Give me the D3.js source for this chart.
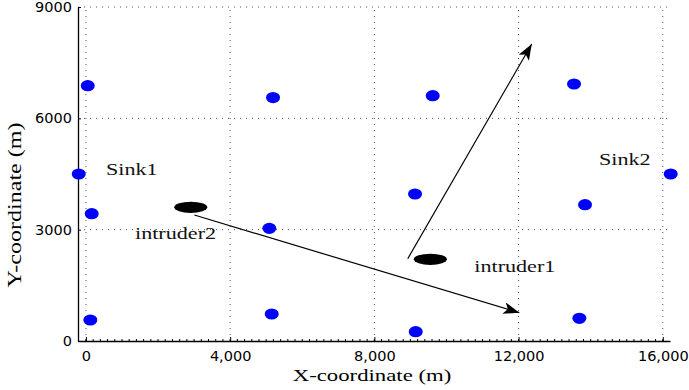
<!DOCTYPE html>
<html>
<head>
<meta charset="utf-8">
<script src="https://cdn.jsdelivr.net/npm/d3@7"></script>
<style>
  body { margin: 0; background: #fff; }
  svg { display: block; }
</style>
</head>
<body>
<svg id="chart"></svg>
<script>
// sensor nodes (m)
const nodeX = [50, -200, 160, 122, 5190, 5087, 5153, 9619, 9128, 9147, 13538, 13843, 13686, 16220];
const nodeY = [6880, 4500, 3430, 566, 6560, 3035, 728, 6610, 3961, 251, 6925, 3673, 611, 4500];

// intruders
const intruderX = [9553, 2907];
const intruderY = [2201, 3603];

// movement arrows [x0, y0, x1, y1]
const arrows = [
    [3007, 3395, 12021, 763],
    [8926, 2218, 12365, 8003]
];

// annotations
const labelText = ['Sink1', 'Sink2', 'intruder2', 'intruder1'];
const labelX = [557, 14232, 1362, 10773];
const labelY = [4473, 4742, 2749, 1859];

const xTicks = [0, 4000, 8000, 12000, 16000];
const yTicks = [0, 3000, 6000, 9000];

const width = 689, height = 390;
const serif = '"Liberation Serif", "Times New Roman", serif';
const stretch = 1.3;   // the original lettering is wide
const svg = d3.select('#chart').attr('width', width).attr('height', height);

const x = d3.scaleLinear().domain([-220, 16200]).range([78, 670]);
const y = d3.scaleLinear().domain([0, 9000]).range([341, 7]);

// grid
const grid = svg.append('g')
    .attr('stroke', '#555')
    .attr('stroke-width', 1)
    .attr('stroke-dasharray', '1,5');
grid.selectAll('line.vx')
    .data(xTicks)
    .enter()
    .append('line')
        .attr('x1', d => x(d)).attr('x2', d => x(d))
        .attr('y1', y(0)).attr('y2', y(9000));
grid.selectAll('line.hy')
    .data(yTicks.filter(d => d > 0))
    .enter()
    .append('line')
        .attr('x1', x.range()[0]).attr('x2', x.range()[1])
        .attr('y1', d => y(d)).attr('y2', d => y(d));

// axes
const xAxis = svg.append('g')
    .attr('transform', `translate(0,${y(0)})`)
    .call(d3.axisBottom(x).tickValues(xTicks).tickSizeInner(-4).tickSizeOuter(0)
        .tickFormat(d3.format(',')).tickPadding(7));

// minor ticks on x
svg.append('g')
    .selectAll('line')
    .data(d3.range(0, 16001, 200))
    .enter()
    .append('line')
        .attr('x1', d => x(d)).attr('x2', d => x(d))
        .attr('y1', y(0)).attr('y2', y(0) - 2)
        .attr('stroke', '#000');

const yAxis = svg.append('g')
    .attr('transform', `translate(${x.range()[0]},0)`)
    .call(d3.axisLeft(y).tickValues(yTicks).tickSizeInner(-3).tickSizeOuter(0)
        .tickFormat(d3.format('d')).tickPadding(6));

svg.selectAll('.domain').attr('stroke', '#000').attr('stroke-width', 1.3);
svg.selectAll('.tick line').attr('stroke', '#000');
svg.selectAll('.tick text')
    .style('font-family', '"DejaVu Sans", sans-serif')
    .style('font-size', '14.5px')
    .attr('fill', '#000');
xAxis.selectAll('.tick text').attr('dy', '0.9em');

function widen(sel) {
    sel.each(function() {
        const w = this.getComputedTextLength();
        d3.select(this)
            .attr('textLength', w * stretch)
            .attr('lengthAdjust', 'spacingAndGlyphs');
    });
}

// axis titles
svg.append('text')
    .attr('x', 372).attr('y', 381)
    .attr('text-anchor', 'middle')
    .style('font-family', serif).style('font-size', '17.5px')
    .text('X-coordinate (m)')
    .call(widen);
svg.append('text')
    .attr('transform', 'translate(21,205) rotate(-90)')
    .attr('text-anchor', 'middle')
    .style('font-family', serif).style('font-size', '18.5px')
    .text('Y-coordinate (m)')
    .call(widen);

// arrows
svg.append('defs').append('marker')
    .attr('id', 'head')
    .attr('viewBox', '0 0 16 12')
    .attr('refX', 16).attr('refY', 6)
    .attr('markerWidth', 16).attr('markerHeight', 12)
    .attr('markerUnits', 'userSpaceOnUse')
    .attr('orient', 'auto')
    .append('path')
        .attr('d', 'M0,0 L16,6 L0,12 L4,6 Z')
        .attr('fill', '#000');

svg.append('g')
    .selectAll('line')
    .data(arrows)
    .enter()
    .append('line')
        .attr('x1', d => x(d[0])).attr('y1', d => y(d[1]))
        .attr('x2', d => x(d[2])).attr('y2', d => y(d[3]))
        .attr('stroke', '#000')
        .attr('stroke-width', 1.2)
        .attr('marker-end', 'url(#head)');

// sensor nodes
svg.append('g')
    .selectAll('ellipse')
    .data(nodeX)
    .enter()
    .append('ellipse')
        .attr('cx', d => x(d))
        .attr('cy', (d, i) => y(nodeY[i]))
        .attr('rx', 7).attr('ry', 5.6)
        .attr('fill', '#0000ff');

// intruders
svg.append('g')
    .selectAll('ellipse')
    .data(intruderX)
    .enter()
    .append('ellipse')
        .attr('cx', d => x(d))
        .attr('cy', (d, i) => y(intruderY[i]))
        .attr('rx', 16.5).attr('ry', 5.6)
        .attr('fill', '#000');

// labels
svg.append('g')
    .selectAll('text')
    .data(labelText)
    .enter()
    .append('text')
        .attr('x', (d, i) => x(labelX[i]))
        .attr('y', (d, i) => y(labelY[i]))
        .style('font-family', serif)
        .style('font-size', '17px')
        .attr('fill', '#111')
        .text(d => d)
        .call(widen);
</script>
</body>
</html>
